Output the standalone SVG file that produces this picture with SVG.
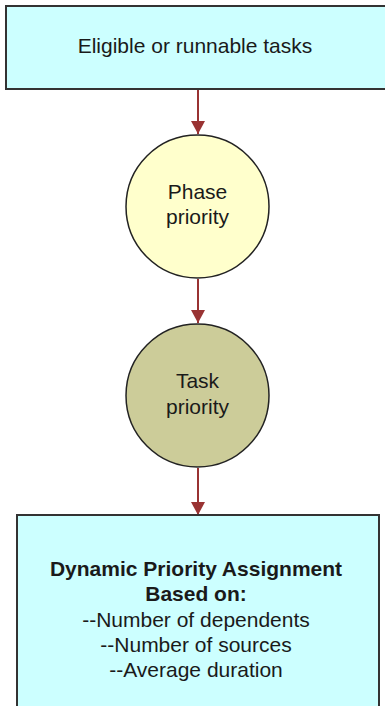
<svg xmlns="http://www.w3.org/2000/svg" width="385" height="706" viewBox="0 0 385 706">
<style>
.box{fill:#CCFFFF;stroke:#333333;stroke-width:2}
.circ{stroke:#222222;stroke-width:1.5}
.t{font-family:"Liberation Sans",Arial,sans-serif;font-size:21px;fill:#1a1a1a;text-anchor:middle}
.b{font-weight:bold}
.c{stroke:#993333;stroke-width:2;fill:none}
</style>
<defs>
<marker id="ah" markerWidth="13" markerHeight="14" refX="13" refY="7" orient="auto" markerUnits="userSpaceOnUse">
<path d="M0,0 L13,7 L0,14 Z" fill="#993333"/>
</marker>
</defs>
<g id="connectors">
<line class="c" x1="198" y1="90" x2="198" y2="134" marker-end="url(#ah)"/>
<line class="c" x1="198" y1="279" x2="198" y2="323" marker-end="url(#ah)"/>
<line class="c" x1="198" y1="468" x2="198" y2="515" marker-end="url(#ah)"/>
</g>
<g id="eligible">
<rect class="box" x="6" y="6" width="390" height="83"/>
<text class="t" x="195" y="53">Eligible or runnable tasks</text>
</g>
<g id="phase">
<circle class="circ" cx="197.5" cy="206.5" r="71.5" fill="#FFFFCC"/>
<text class="t" x="197.5" y="199">Phase</text>
<text class="t" x="197.5" y="224">priority</text>
</g>
<g id="task">
<circle class="circ" cx="197.5" cy="395.5" r="71.5" fill="#CCCC99"/>
<text class="t" x="197.5" y="388">Task</text>
<text class="t" x="197.5" y="414">priority</text>
</g>
<g id="dynamic">
<rect class="box" x="17" y="515" width="362" height="200"/>
<text class="t b" x="196" y="576">Dynamic Priority Assignment</text>
<text class="t b" x="196" y="601">Based on:</text>
<text class="t" x="196" y="627">--Number of dependents</text>
<text class="t" x="196" y="652">--Number of sources</text>
<text class="t" x="196" y="677">--Average duration</text>
</g>
</svg>
